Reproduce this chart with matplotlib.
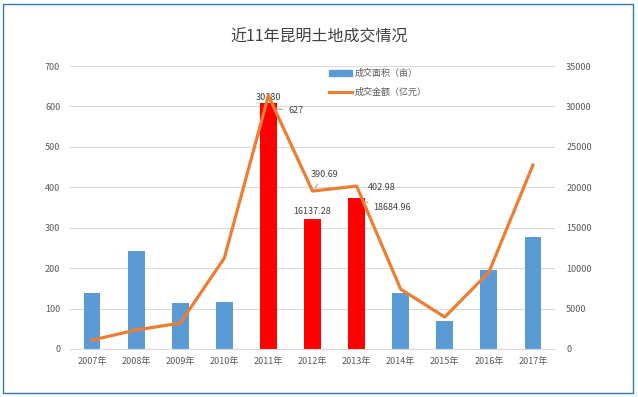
import matplotlib
matplotlib.use("Agg")
import matplotlib.pyplot as plt
from matplotlib.patches import Rectangle
from matplotlib.lines import Line2D
from matplotlib.patches import Patch

plt.rcParams['font.family'] = ['Noto Sans CJK SC', 'DejaVu Sans']

years = ["2007年", "2008年", "2009年", "2010年", "2011年", "2012年", "2013年",
         "2014年", "2015年", "2016年", "2017年"]
area = [138, 242, 114, 116, 607.6, 322.7, 373.7, 138, 70, 196, 277]
amount = [1100, 2350, 3200, 11250, 31350, 19535, 20150, 7400, 3950, 9500, 22750]
bar_colors = ["#5B9BD5"] * 4 + ["#FF0000"] * 3 + ["#5B9BD5"] * 4
left_ticks = [0, 100, 200, 300, 400, 500, 600, 700]
right_ticks = [0, 5000, 10000, 15000, 20000, 25000, 30000, 35000]

fig = plt.figure(figsize=(6.38, 3.97), dpi=100)
W, H = 638, 397
ax = fig.add_axes([70 / W, 1 - 349 / H, 485 / W, (349 - 66) / H])
ax2 = ax.twinx()

x = list(range(len(years)))
ax.bar(x, area, width=0.38, color=bar_colors, zorder=2)
ax.set_xlim(-0.5, len(years) - 0.5)
ax.set_ylim(0, 700)
ax.set_yticks(left_ticks)
ax.grid(axis='y', color="#D9D9D9", linewidth=0.8, zorder=0)
ax.set_axisbelow(True)
ax.set_xticks(x)
ax.set_xticklabels(years)

ax2.plot(x, amount, color="#ED7D31", linewidth=2.3, zorder=3)
ax2.set_ylim(0, 35000)
ax2.set_yticks(right_ticks)

for a in (ax, ax2):
    for s in a.spines.values():
        s.set_visible(False)
    a.tick_params(length=0, labelsize=6.5, labelcolor="#595959")
ax.spines['bottom'].set_visible(True)
ax.spines['bottom'].set_color("#D9D9D9")
ax.tick_params(axis='y', pad=7)
ax2.tick_params(axis='y', pad=8)
ax.tick_params(axis='x', pad=6)

# annotations (data labels as shown)
fs = 6.5
ax.text(4, 612, "30380", ha='center', va='bottom', fontsize=fs, color="#404040")
ax.annotate("627", xy=(4.05, 595), xytext=(4.45, 590), fontsize=fs, color="#404040",
            va='center', arrowprops=dict(arrowstyle='-', color="#A6A6A6", lw=0.8))
ax.annotate("390.69", xy=(5.02, 392), xytext=(4.95, 420), fontsize=fs, color="#404040",
            va='bottom', arrowprops=dict(arrowstyle='-', color="#A6A6A6", lw=0.8))
ax.text(5.0, 330, "16137.28", ha='center', va='bottom', fontsize=fs, color="#404040")
ax.text(6.25, 400, "402.98", ha='left', va='center', fontsize=fs, color="#404040")
ax.annotate("18684.96", xy=(6.1, 366), xytext=(6.38, 351), fontsize=fs, color="#404040",
            va='center', arrowprops=dict(arrowstyle='-', color="#A6A6A6", lw=0.8))

handles = [Patch(color="#5B9BD5"), Line2D([], [], color="#ED7D31", lw=2.3)]
leg = ax.legend(handles, ["成交面积（亩）", "成交金额（亿元）"], loc='upper left',
                bbox_to_anchor=(0.517, 1.018), frameon=False, fontsize=6.5,
                handlelength=2.6, handleheight=0.6, labelspacing=1.05,
                handletextpad=0.3)
for t in leg.get_texts():
    t.set_color("#595959")

fig.text(0.5, 1 - 37 / H, "近11年昆明土地成交情况", ha='center', va='center',
         fontsize=11.5, color="#404040")

fig.patches.append(Rectangle((3 / W, 4 / H), 630 / W, 389 / H, transform=fig.transFigure,
                             fill=False, edgecolor="#2E75B6", linewidth=1.0))

fig.savefig("out.png", dpi=100)
